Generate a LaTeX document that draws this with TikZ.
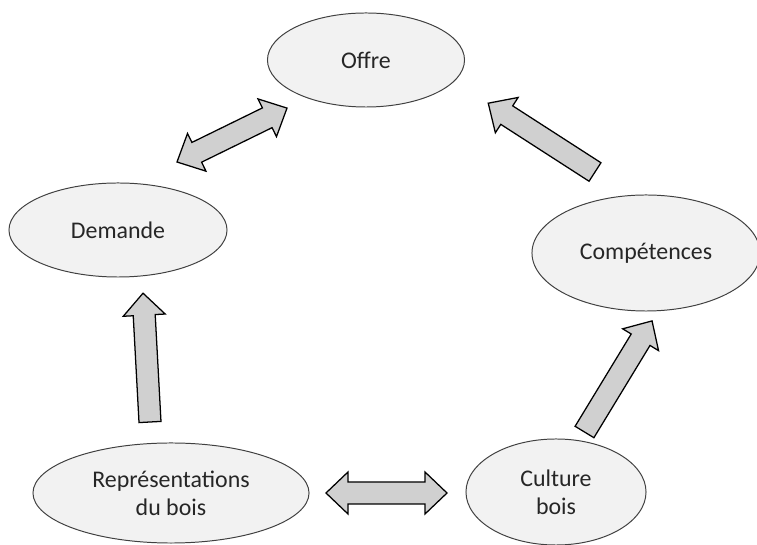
\documentclass[tikz,border=0pt]{standalone}
\usepackage{fontspec}
\setmainfont{Carlito}
\usepackage{xcolor}
\usepackage{tikz}
\usetikzlibrary{shapes.geometric}

\definecolor{bubblefill}{HTML}{F2F2F2}
\definecolor{arrowfill}{HTML}{D0D0D0}

\tikzset{
	bubble/.style={ellipse, draw=black!75, line width=0.7pt, fill=bubblefill, text=black!85, align=center, font=\fontsize{17}{20}\selectfont},
	blockarr/.style={draw=black, line width=0.9pt, fill=arrowfill, line join=miter},
	pics/onearrow/.style={code={
		\draw[blockarr] (0,-11) -- (#1-22,-11) -- (#1-22,-21) -- (#1,0) -- (#1-22,21) -- (#1-22,11) -- (0,11) -- cycle;
	}},
	pics/twoarrow/.style={code={
		\draw[blockarr] (0,0) -- (22,-21) -- (22,-11) -- (#1-22,-11) -- (#1-22,-21) -- (#1,0) -- (#1-22,21) -- (#1-22,11) -- (22,11) -- (22,21) -- cycle;
	}}
}

\begin{document}
\begin{tikzpicture}[x=0.025cm, y=0.025cm]
	\useasboundingbox (0,0) rectangle (757,545);
	% ellipses
	\node[bubble, minimum width=4.925cm, minimum height=2.35cm] (offre) at (366,485) {Offre};
	\node[bubble, minimum width=5.45cm, minimum height=2.35cm] (demande) at (118,315) {Demande};
	\node[bubble, minimum width=5.7cm, minimum height=2.9cm] (comp) at (646,292) {Compétences};
	\node[bubble, minimum width=6.9cm, minimum height=2.5cm] (repr) at (171,52) {Représentations\\du bois};
	\node[bubble, minimum width=4.5cm, minimum height=2.65cm] (culture) at (556,53) {Culture\\bois};
	% block arrows
	\pic[rotate=26.1] at (177,383) {twoarrow=122.5};
	\pic[rotate=147.2] at (595,373) {onearrow=127};
	\pic at (326,52) {twoarrow=121};
	\pic[rotate=93.1] at (150,123) {onearrow=129};
	\pic[rotate=58.7] at (584.5,113) {onearrow=130};
\end{tikzpicture}
\end{document}
